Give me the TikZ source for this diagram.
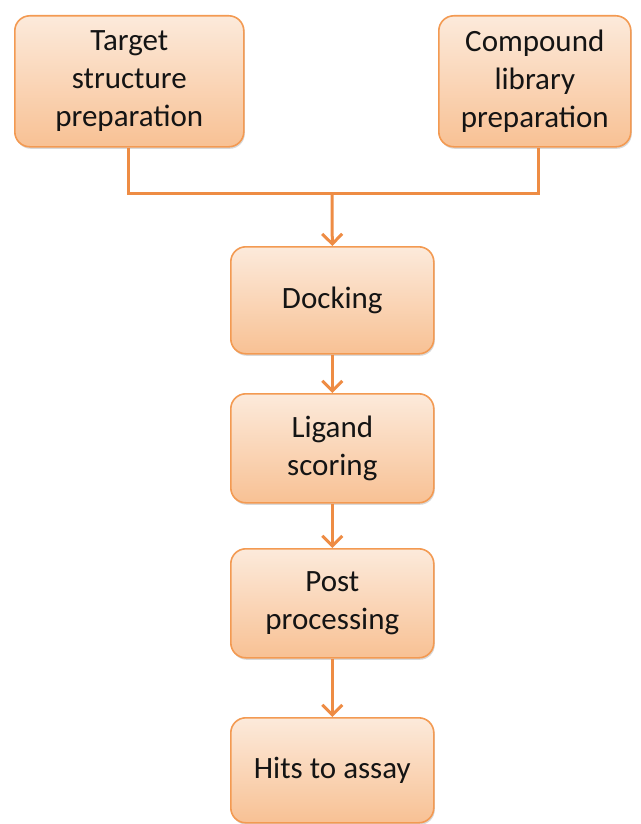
\documentclass[tikz,border=0pt]{standalone}
\usepackage{
	fontspec,			% Fonts
	xcolor,
	tikz
}
\setmainfont{Carlito}
\usetikzlibrary{arrows.meta,shadows}

\definecolor{boxline}{HTML}{F39A52}
\definecolor{boxtop}{HTML}{FCEADB}
\definecolor{boxbot}{HTML}{F8C194}
\definecolor{flowline}{HTML}{EE8C44}

\tikzset{
	stagebox/.style={draw=boxline, line width=1.6pt, rounded corners=15pt,
		top color=boxtop, bottom color=boxbot, align=center,
		font=\fontsize{31}{38}\selectfont, text=black!92,
		inner sep=0pt, anchor=north west,
		drop shadow={shadow xshift=1pt, shadow yshift=-2pt, opacity=0.25, fill=black!60}},
	flow/.style={draw=flowline, line width=3pt},
	flowarrow/.style={flow, -{Straight Barb[length=10pt,width=20pt,line width=3pt]}}
}

\begin{document}
\begin{tikzpicture}[x=1pt,y=-1pt]
		\useasboundingbox (0,0) rectangle (640,824);
		% top row
		\node[stagebox, minimum width=229pt, minimum height=131pt] (target) at (14,15) {Target\\structure\\preparation};
		\node[stagebox, minimum width=192pt, minimum height=131pt] (compound) at (438,15) {Compound\\library\\preparation};
		% main column
		\node[stagebox, minimum width=203pt, minimum height=107pt] (docking) at (230,246) {Docking};
		\node[stagebox, minimum width=203pt, minimum height=109pt] (ligand) at (230,393) {Ligand\\scoring};
		\node[stagebox, minimum width=203pt, minimum height=109pt] (post) at (230,548) {Post\\processing};
		\node[stagebox, minimum width=203pt, minimum height=105pt] (hits) at (230,717) {Hits to assay};
		% connectors
		\coordinate (join) at (332,193);
		\coordinate (tdrop) at (128,193);
		\coordinate (cdrop) at (538,193);
		\draw[flow] (target.south -| tdrop) -- (tdrop) -- (cdrop) -- (compound.south -| cdrop);
		\draw[flowarrow] (join) -- (docking.north);
		\draw[flowarrow] (docking) -- (ligand);
		\draw[flowarrow] (ligand) -- (post);
		\draw[flowarrow] (post) -- (hits);
	\end{tikzpicture}
\end{document}
